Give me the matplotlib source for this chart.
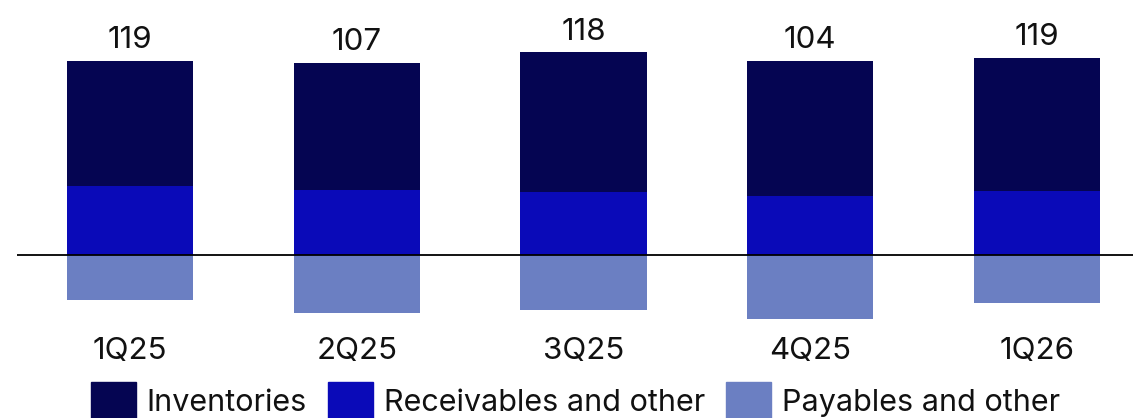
import matplotlib.pyplot as plt
import numpy as np
from matplotlib.patches import Patch

quarters = ["1Q25", "2Q25", "3Q25", "4Q25", "1Q26"]
inventories = [99, 101, 111, 107, 106]
receivables = [55, 52, 50, 47, 51]
payables = [-35, -46, -43, -50, -38]

COLORS = {
    "inv": "#050552",
    "rec": "#0A0AB8",
    "pay": "#6B7FC2",
}

plt.rcParams["font.family"] = ["Inter", "DejaVu Sans"]

fig = plt.figure(figsize=(11.33, 4.18), dpi=100)
ax = fig.add_axes([0.015, 0.2105, 0.985, 0.7895])

x = np.arange(len(quarters))
width = 0.556

inv = np.array(inventories)
rec = np.array(receivables)
pay = np.array(payables)

ax.bar(x, rec, width, color=COLORS["rec"], label="Receivables and other")
ax.bar(x, inv, width, bottom=rec, color=COLORS["inv"], label="Inventories")
ax.bar(x, pay, width, color=COLORS["pay"], label="Payables and other")
ax.axhline(0, color="black", lw=1.3)

totals = inv + rec + pay
for xi, top, total in zip(x, inv + rec, totals):
    ax.annotate(f"{total:d}", (xi, top), xytext=(0, 5), textcoords="offset points",
                ha="center", va="bottom", fontsize=22.5, color="#111111")

ax.set_xlim(-0.498, 4.423)
ax.set_ylim(-59.1, 202.6)
ax.set_xticks(x)
ax.set_xticklabels(quarters, fontsize=22.5, color="#111111")
ax.tick_params(axis="x", length=0, pad=5)
ax.set_yticks([])
for spine in ax.spines.values():
    spine.set_visible(False)

handles = [
    Patch(color=COLORS["inv"], label="Inventories"),
    Patch(color=COLORS["rec"], label="Receivables and other"),
    Patch(color=COLORS["pay"], label="Payables and other"),
]
fig.legend(handles=handles, loc="lower center", bbox_to_anchor=(0.508, -0.07), ncol=3,
           frameon=False, fontsize=22, handlelength=1.45, handleheight=1.5,
           handletextpad=0.36, columnspacing=0.7, labelcolor="#111111")

fig.savefig("out.png", dpi=100)
